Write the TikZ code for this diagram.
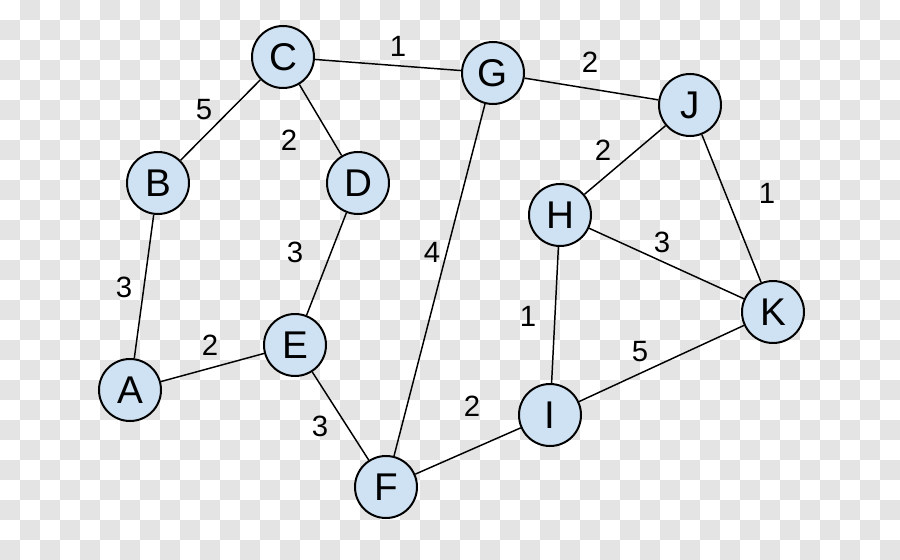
\documentclass[tikz,border=0pt]{standalone}
\usepackage{fontspec}
\setmainfont{Liberation Sans}
\definecolor{nodeblue}{HTML}{CFE2F3}
\definecolor{checkgrey}{HTML}{E4E4E4}
\begin{document}
\begin{tikzpicture}[x=0.75pt,y=-0.75pt,
  vtx/.style={circle,draw=black,line width=1.5pt,fill=nodeblue,minimum size=46.5pt,inner sep=0pt,font=\fontsize{29}{31}\selectfont},
  edge/.style={line width=1.1pt,black},
  wlab/.style={font=\fontsize{22}{24}\selectfont,inner sep=0pt}]
\useasboundingbox (0,0) rectangle (900,560);
\fill[white] (0,0) rectangle (900,560);
\foreach \j in {0,...,27}{
  \pgfmathtruncatemacro{\s}{mod(\j+1,2)}
  \pgfmathtruncatemacro{\t}{\s+2}
  \foreach \i in {\s,\t,...,44}{
    \fill[checkgrey] (\i*20,\j*20) rectangle (\i*20+20,\j*20+20);
  }
}
\node[vtx] (A) at (130,390) {A};
\node[vtx] (B) at (158,183) {B};
\node[vtx] (C) at (283,57) {C};
\node[vtx] (D) at (358,183) {D};
\node[vtx] (E) at (295,345) {E};
\node[vtx] (F) at (386,487) {F};
\node[vtx] (G) at (493,73) {G};
\node[vtx] (H) at (560,215) {H};
\node[vtx] (I) at (550,415) {I};
\node[vtx] (J) at (690,105) {J};
\node[vtx] (K) at (773,312) {K};
\draw[edge] (C) -- (G);
\draw[edge] (G) -- (J);
\draw[edge] (J) -- (H);
\draw[edge] (J) -- (K);
\draw[edge] (H) -- (K);
\draw[edge] (C) -- (B);
\draw[edge] (C) -- (D);
\draw[edge] (D) -- (E);
\draw[edge] (G) -- (F);
\draw[edge] (B) -- (A);
\draw[edge] (A) -- (E);
\draw[edge] (E) -- (F);
\draw[edge] (F) -- (I);
\draw[edge] (H) -- (I);
\draw[edge] (I) -- (K);
\node[wlab] (l1) at (398,46) {1};
\node[wlab] (l2) at (590,62) {2};
\node[wlab] (l3) at (603,150) {2};
\node[wlab] (l4) at (767,193) {1};
\node[wlab] (l5) at (662,242) {3};
\node[wlab] (l6) at (204,110) {5};
\node[wlab] (l7) at (289,140) {2};
\node[wlab] (l8) at (295,252) {3};
\node[wlab] (l9) at (432,252) {4};
\node[wlab] (l10) at (124,287) {3};
\node[wlab] (l11) at (210,345) {2};
\node[wlab] (l12) at (320,426) {3};
\node[wlab] (l13) at (472,406) {2};
\node[wlab] (l14) at (528,316) {1};
\node[wlab] (l15) at (640,352) {5};
\end{tikzpicture}
\end{document}
